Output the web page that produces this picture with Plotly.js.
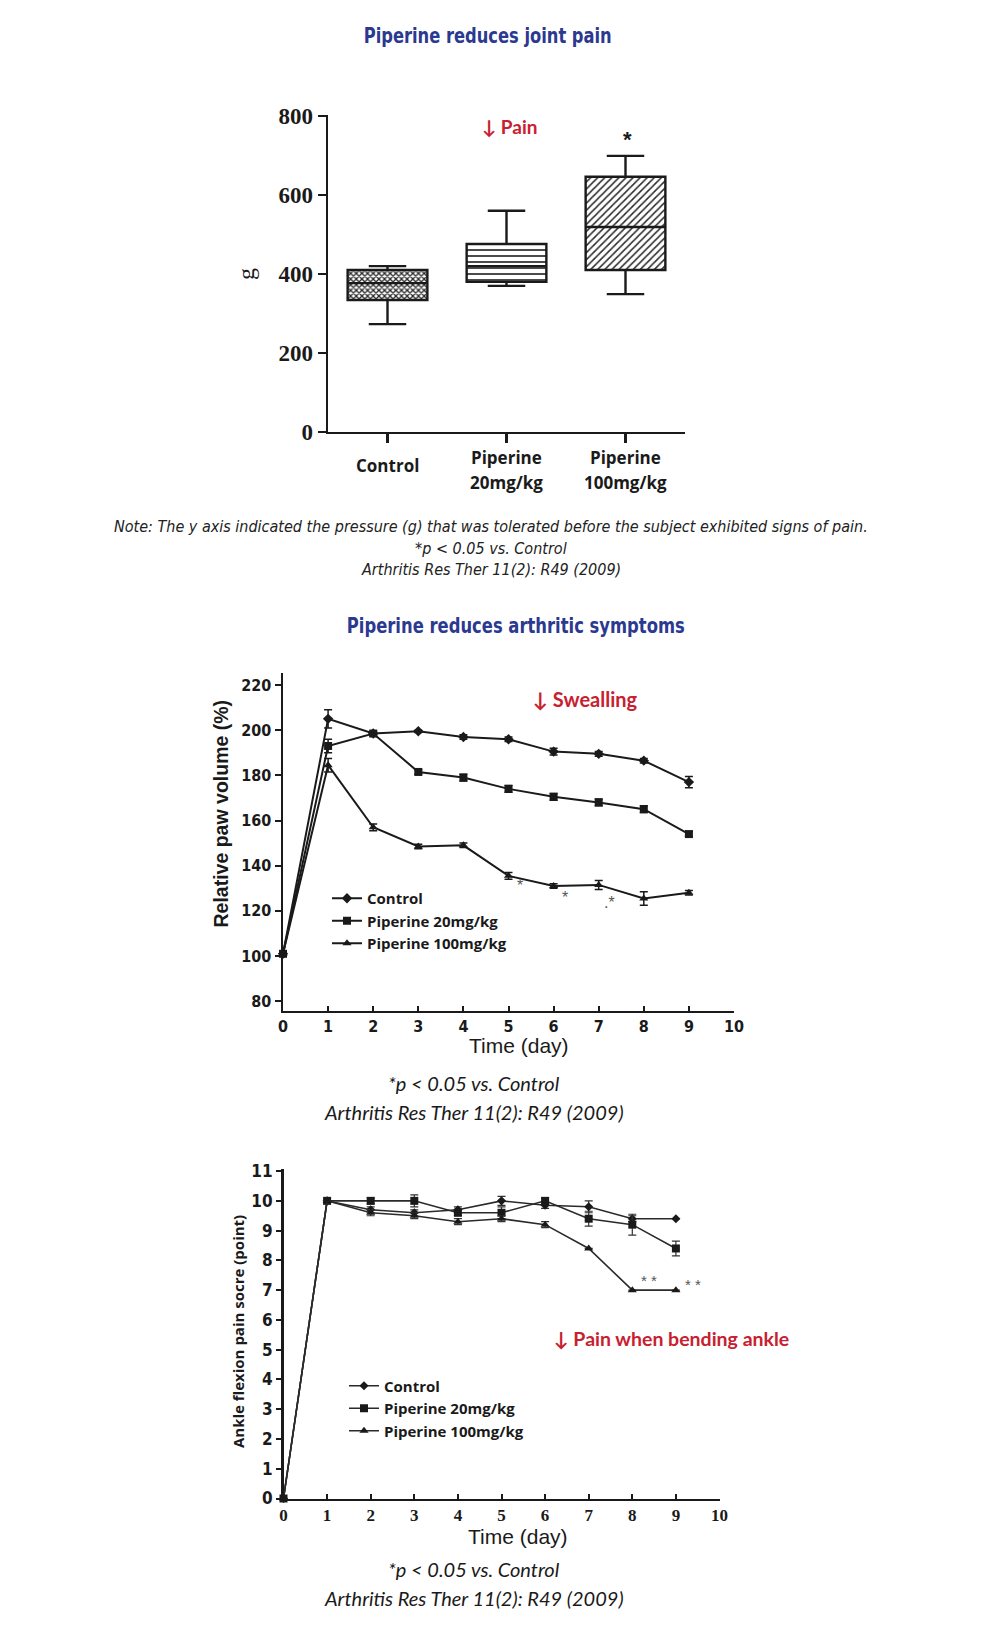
<!DOCTYPE html>
<html>
<head>
<meta charset="utf-8">
<script src="https://cdn.plot.ly/plotly-3.0.1.min.js"></script>
<style>
  html, body { margin: 0; padding: 0; background: #ffffff; }
  #chart { width: 994px; height: 1626px; }
</style>
</head>
<body>
<div id="chart"></div>
<script>
// ---------- DATA ----------
const boxCategories = ['Control', 'Piperine 20mg/kg', 'Piperine 100mg/kg'];
const boxQ1 = [334, 380, 410];
const boxMedian = [377, 420, 519];
const boxQ3 = [410, 476, 646];
const boxLower = [273, 370, 349];
const boxUpper = [420, 560, 699];
const boxYTicks = [0, 200, 400, 600, 800];

const days = [0, 1, 2, 3, 4, 5, 6, 7, 8, 9];
const dayTicks = [0, 1, 2, 3, 4, 5, 6, 7, 8, 9, 10];

const swellControl = [101, 205, 198.5, 199.5, 197, 196, 190.5, 189.5, 186.5, 177];
const swellP20 = [101, 193, 198.5, 181.5, 179, 174, 170.5, 168, 165, 154];
const swellP100 = [101, 184.5, 157, 148.5, 149, 135.5, 131, 131.5, 125.5, 128];
const swellControlErr = [0, 4, 0.5, 0.5, 1, 1, 1.5, 1, 1, 2.5];
const swellP20Err = [1, 3, 1, 1, 1.5, 1.5, 1.5, 1.5, 1.5, 1];
const swellP100Err = [1, 3, 1.5, 1, 1, 1.5, 1, 2, 3, 1];
const swellYTicks = [80, 100, 120, 140, 160, 180, 200, 220];

const ankleControl = [0, 10, 9.7, 9.6, 9.7, 10, 9.85, 9.8, 9.4, 9.4];
const ankleP20 = [0, 10, 10, 10, 9.6, 9.6, 10, 9.4, 9.2, 8.4];
const ankleP100 = [0, 10, 9.6, 9.5, 9.3, 9.4, 9.2, 8.4, 7, 7];
const ankleControlErr = [0, 0, 0.1, 0.1, 0.1, 0.15, 0.1, 0.2, 0.1, 0];
const ankleP20Err = [0, 0, 0.1, 0.2, 0.1, 0.2, 0.1, 0.25, 0.35, 0.25];
const ankleP100Err = [0, 0, 0.1, 0.1, 0.1, 0.1, 0.1, 0, 0, 0];
const ankleYTicks = [0, 1, 2, 3, 4, 5, 6, 7, 8, 9, 10, 11];

const seriesNames = ['Control', 'Piperine 20mg/kg', 'Piperine 100mg/kg'];

// ---------- HELPERS ----------
const W = 994, H = 1626;
const X = p => p / W;
const Y = p => 1 - p / H;

const BLUE = '#2b3990';
const RED = '#c8202f';
const INK = '#1a1a1a';
const NARROW = '"Liberation Sans Narrow", "Arial Narrow", "DejaVu Sans Condensed", "Liberation Sans", sans-serif';
const SERIF = '"Liberation Serif", "Times New Roman", serif';
const SANS = '"Open Sans", "Noto Sans", sans-serif';
const HUMAN = 'Lato, "Open Sans", sans-serif';
const ARIAL = '"Liberation Sans", Arial, sans-serif';

// ---------- TRACES ----------
const traces = [];

traces.push({
  type: 'bar', xaxis: 'x', yaxis: 'y',
  x: boxCategories,
  y: boxQ3.map((v, i) => v - boxQ1[i]),
  base: boxQ1,
  width: 0.67,
  showlegend: false, hoverinfo: 'skip',
  marker: {
    color: '#ffffff',
    line: { width: 0 },
    pattern: {
      shape: ['x', '-', '/'],
      size: [4, 6, 5],
      solidity: [0.55, 0.28, 0.3],
      fgcolor: '#2a2a2a',
      bgcolor: '#ffffff'
    }
  }
});
traces.push({
  type: 'box', xaxis: 'x', yaxis: 'y',
  x: boxCategories,
  q1: boxQ1, median: boxMedian, q3: boxQ3,
  lowerfence: boxLower, upperfence: boxUpper,
  width: 0.67, whiskerwidth: 0.47,
  fillcolor: 'rgba(0,0,0,0)',
  line: { color: INK, width: 2.4 },
  boxpoints: false,
  showlegend: false, hoverinfo: 'skip'
});

const symbols = ['diamond', 'square', 'triangle-up'];

const swellSeries = [swellControl, swellP20, swellP100];
const swellErr = [swellControlErr, swellP20Err, swellP100Err];
swellSeries.forEach((s, i) => {
  traces.push({
    type: 'scatter', mode: 'lines+markers', xaxis: 'x2', yaxis: 'y2',
    x: days, y: s, name: seriesNames[i], legend: 'legend',
    line: { color: INK, width: 2 },
    marker: { symbol: symbols[i], size: 8, color: INK },
    error_y: { type: 'data', array: swellErr[i], visible: true, color: INK, thickness: 1.5, width: 4 },
    cliponaxis: false
  });
});

const ankleSeries = [ankleControl, ankleP20, ankleP100];
const ankleErr = [ankleControlErr, ankleP20Err, ankleP100Err];
ankleSeries.forEach((s, i) => {
  traces.push({
    type: 'scatter', mode: 'lines+markers', xaxis: 'x3', yaxis: 'y3',
    x: days, y: s, name: seriesNames[i], legend: 'legend2',
    line: { color: '#2a2a2a', width: 1.6 },
    marker: { symbol: symbols[i], size: [7, 8, 8][i], color: '#1a1a1a' },
    error_y: { type: 'data', array: ankleErr[i], visible: true, color: '#333', thickness: 1.2, width: 4 },
    cliponaxis: false
  });
});

// ---------- AXES ----------
const baseAxis = {
  showgrid: false, zeroline: false, showline: true,
  linecolor: INK, tickcolor: INK, fixedrange: true
};

const layout = {
  width: W, height: H,
  margin: { l: 0, r: 0, t: 0, b: 0 },
  paper_bgcolor: '#ffffff', plot_bgcolor: 'rgba(0,0,0,0)',
  showlegend: true,
  bargap: 0,

  xaxis: Object.assign({}, baseAxis, {
    type: 'category', domain: [X(328), X(685)], range: [-0.5, 2.5],
    anchor: 'y', linewidth: 2.4, ticks: 'outside', ticklen: 9, tickwidth: 2.2,
    showticklabels: false
  }),
  yaxis: Object.assign({}, baseAxis, {
    domain: [Y(432), Y(115)], range: [0, 802.5], anchor: 'x',
    linewidth: 2.4, ticks: 'outside', ticklen: 8, tickwidth: 2.2,
    tickvals: boxYTicks, ticktext: boxYTicks.map(String),
    tickfont: { family: SERIF, size: 23, color: INK, weight: 'bold' }
  }),

  xaxis2: Object.assign({}, baseAxis, {
    domain: [X(283), X(734)], range: [0, 10], anchor: 'y2',
    linewidth: 2.5, ticks: 'inside', ticklen: 5, tickwidth: 2,
    tickvals: dayTicks, ticktext: dayTicks.map(String),
    tickfont: { family: NARROW, size: 16, color: INK, weight: 'bold' }
  }),
  yaxis2: Object.assign({}, baseAxis, {
    domain: [Y(1010.5), Y(673)], range: [75.9, 225.3], anchor: 'x2',
    linewidth: 2.5, ticks: 'outside', ticklen: 6, tickwidth: 2,
    tickvals: swellYTicks, ticktext: swellYTicks.map(String),
    tickfont: { family: NARROW, size: 16, color: INK, weight: 'bold' }
  }),

  xaxis3: Object.assign({}, baseAxis, {
    domain: [X(283.5), X(719.5)], range: [0, 10], anchor: 'y3',
    linewidth: 2.5, ticks: 'inside', ticklen: 5, tickwidth: 2,
    tickvals: dayTicks, ticktext: dayTicks.map(String),
    tickfont: { family: SERIF, size: 17, color: INK, weight: 'bold' }
  }),
  yaxis3: Object.assign({}, baseAxis, {
    domain: [Y(1498.5), Y(1169)], range: [0, 11.07], anchor: 'x3',
    linewidth: 2.5, ticks: 'outside', ticklen: 5, tickwidth: 2,
    tickvals: ankleYTicks, ticktext: ankleYTicks.map(String),
    tickfont: { family: NARROW, size: 17, color: INK, weight: 'bold' }
  }),

  legend: {
    x: X(327), y: Y(882), xanchor: 'left', yanchor: 'top',
    bgcolor: 'rgba(0,0,0,0)', borderwidth: 0,
    font: { family: SANS, size: 15, color: INK, weight: 'bold' },
    tracegroupgap: 0, itemclick: false, itemdoubleclick: false
  },
  legend2: {
    x: X(344), y: Y(1369.5), xanchor: 'left', yanchor: 'top',
    bgcolor: 'rgba(0,0,0,0)', borderwidth: 0,
    font: { family: SANS, size: 15, color: INK, weight: 'bold' },
    tracegroupgap: 0, itemclick: false, itemdoubleclick: false
  },

  annotations: []
};

const A = layout.annotations;
function txt(text, px, py, font, extra) {
  A.push(Object.assign({
    text: text, xref: 'paper', yref: 'paper', x: X(px), y: Y(py),
    xanchor: 'center', yanchor: 'middle', showarrow: false, font: font
  }, extra || {}));
}

// chart 1 texts
const TITLE1 = 'Piperine reduces joint pain';
const TITLE2 = 'Piperine reduces arthritic symptoms';
txt(TITLE1, 487, 36, { family: NARROW, size: 21, color: BLUE, weight: 'bold' });
txt('↓ Pain', 510, 127, { family: HUMAN, size: 19, color: RED, weight: 'bold' });
txt('*', 627, 140, { family: ARIAL, size: 22, color: INK, weight: 'bold' });
txt('g', 246, 274, { family: SERIF, size: 24, color: INK }, { textangle: -90 });
A.push({ text: 'Control', xref: 'x', yref: 'paper', x: boxCategories[0], y: Y(465), showarrow: false,
  xanchor: 'center', yanchor: 'middle', font: { family: SANS, size: 17, color: INK, weight: 'bold' } });
['Piperine', 'Piperine'].forEach((t, i) => {
  A.push({ text: t, xref: 'x', yref: 'paper', x: boxCategories[i + 1], y: Y(457.5), showarrow: false,
    xanchor: 'center', yanchor: 'middle', font: { family: SANS, size: 17, color: INK, weight: 'bold' } });
});
['20mg/kg', '100mg/kg'].forEach((t, i) => {
  A.push({ text: t, xref: 'x', yref: 'paper', x: boxCategories[i + 1], y: Y(482.5), showarrow: false,
    xanchor: 'center', yanchor: 'middle', font: { family: SANS, size: 17, color: INK, weight: 'bold' } });
});
const noteFont = { family: NARROW, size: 16, color: '#222', style: 'italic' };
txt('Note: The y axis indicated the pressure (g) that was tolerated before the subject exhibited signs of pain.', 491, 526, noteFont);
txt('*p < 0.05 vs. Control', 491, 548, noteFont);
txt('Arthritis Res Ther 11(2): R49 (2009)', 491, 569, noteFont);

// chart 2 texts
txt(TITLE2, 516, 626, { family: NARROW, size: 21, color: BLUE, weight: 'bold' });
txt('↓ Swealling', 585, 699, { family: HUMAN, size: 20, color: RED, weight: 'bold' });
txt('Relative paw volume (%)', 220.5, 814, { family: ARIAL, size: 19.5, color: INK, weight: 'bold' }, { textangle: -90 });
txt('Time (day)', 519, 1045, { family: ARIAL, size: 21, color: INK });
const citeFont = { family: HUMAN, size: 20, color: INK, style: 'italic' };
txt('*p < 0.05 vs. Control', 474, 1083, citeFont);
txt('Arthritis Res Ther 11(2): R49 (2009)', 474, 1112, citeFont);
[[5.25, 131.4, '*'], [6.25, 126, '*'], [7.23, 123.9, '.*']].forEach(a => {
  A.push({ text: a[2], xref: 'x2', yref: 'y2', x: a[0], y: a[1], showarrow: false,
    font: { family: ARIAL, size: 16, color: '#555' } });
});

// chart 3 texts
txt('Ankle flexion pain socre (point)', 238, 1332, { family: SANS, size: 15, color: INK, weight: 'bold' }, { textangle: -90 });
txt('↓ Pain when bending ankle', 671, 1338, { family: HUMAN, size: 19.5, color: RED, weight: 'bold' });
txt('Time (day)', 518, 1536, { family: ARIAL, size: 21, color: INK });
txt('*p < 0.05 vs. Control', 474, 1569, citeFont);
txt('Arthritis Res Ther 11(2): R49 (2009)', 474, 1598, citeFont);
[[8.38, 7.34], [9.39, 7.2]].forEach(a => {
  A.push({ text: '* *', xref: 'x3', yref: 'y3', x: a[0], y: a[1], showarrow: false,
    font: { family: ARIAL, size: 15, color: '#555' } });
});

// condensed headline widths (the reference uses a condensed face)
const condensedWidths = {};
condensedWidths[TITLE1] = 248;
condensedWidths[TITLE2] = 338;

Plotly.newPlot('chart', traces, layout, { staticPlot: true, displayModeBar: false }).then(gd => {
  gd.querySelectorAll('text.annotation-text').forEach(t => {
    const w = condensedWidths[t.textContent];
    if (w) {
      t.setAttribute('textLength', w);
      t.setAttribute('lengthAdjust', 'spacingAndGlyphs');
    }
  });
});
</script>
</body>
</html>
